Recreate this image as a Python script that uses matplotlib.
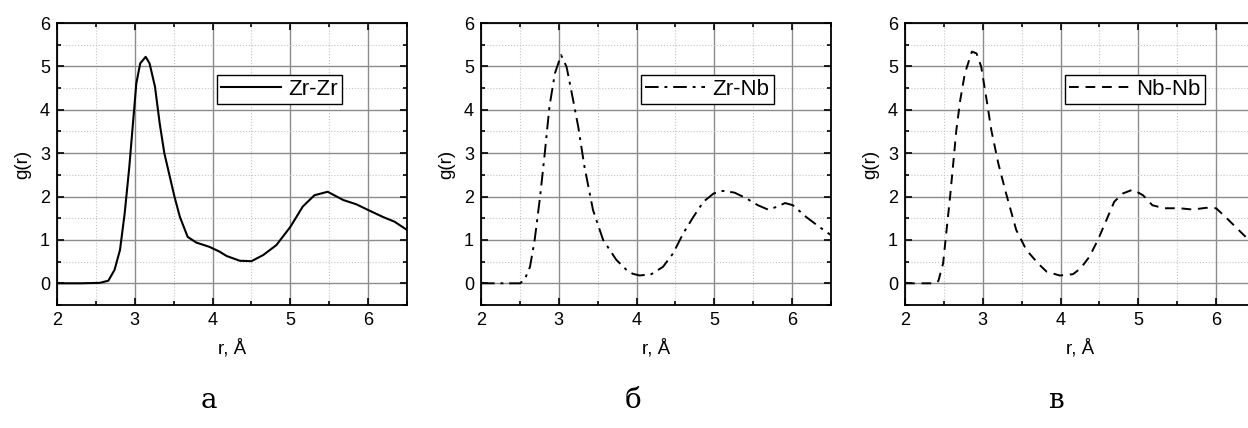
import numpy as np
import matplotlib.pyplot as plt
from matplotlib.ticker import MultipleLocator

# Zr-Zr
r1 = [2.0, 2.3, 2.55, 2.66, 2.74, 2.81, 2.87, 2.93, 2.98, 3.02, 3.07, 3.14, 3.19, 3.26, 3.32, 3.38,
      3.45, 3.51, 3.58, 3.68, 3.79, 3.96, 4.09, 4.18, 4.35, 4.5, 4.65, 4.82, 5.0, 5.16, 5.31, 5.48,
      5.68, 5.85, 6.0, 6.19, 6.34, 6.5]
g1 = [0.0, 0.0, 0.01, 0.06, 0.31, 0.77, 1.61, 2.69, 3.76, 4.61, 5.07, 5.22, 5.07, 4.53, 3.69, 3.0,
      2.46, 2.0, 1.53, 1.07, 0.94, 0.84, 0.73, 0.63, 0.52, 0.51, 0.65, 0.88, 1.3, 1.77, 2.03, 2.11,
      1.92, 1.82, 1.69, 1.53, 1.42, 1.23]

# Zr-Nb
r2 = [2.0, 2.3, 2.5, 2.56, 2.63, 2.69, 2.76, 2.82, 2.88, 2.95, 3.03, 3.10, 3.16, 3.25, 3.33, 3.44,
      3.57, 3.74, 3.87, 3.95, 4.04, 4.19, 4.34, 4.47, 4.6, 4.73, 4.86, 4.99, 5.11, 5.26, 5.41, 5.56,
      5.69, 5.8, 5.91, 6.01, 6.18, 6.35, 6.5]
g2 = [0.0, 0.0, 0.0, 0.08, 0.38, 1.0, 2.0, 3.0, 4.07, 4.84, 5.26, 4.99, 4.45, 3.61, 2.69, 1.69,
      1.0, 0.54, 0.31, 0.22, 0.18, 0.21, 0.38, 0.69, 1.15, 1.53, 1.88, 2.07, 2.13, 2.09, 1.96, 1.8,
      1.7, 1.76, 1.85, 1.8, 1.53, 1.3, 1.11]

# Nb-Nb
r3 = [2.0, 2.2, 2.4, 2.43, 2.49, 2.53, 2.58, 2.62, 2.66, 2.71, 2.77, 2.86, 2.92, 2.98, 3.05, 3.11,
      3.2, 3.30, 3.43, 3.56, 3.71, 3.82, 3.99, 4.16, 4.26, 4.37, 4.48, 4.59, 4.69, 4.8, 4.93, 5.06,
      5.18, 5.33, 5.53, 5.7, 5.87, 6.0, 6.12, 6.25, 6.38, 6.5]
g3 = [0.0, 0.0, 0.0, 0.06, 0.46, 1.15, 2.0, 2.76, 3.53, 4.22, 4.84, 5.34, 5.30, 4.99, 4.22, 3.53,
      2.76, 2.07, 1.23, 0.77, 0.46, 0.27, 0.18, 0.21, 0.35, 0.61, 1.0, 1.46, 1.88, 2.07, 2.16, 2.03,
      1.8, 1.73, 1.73, 1.7, 1.74, 1.73, 1.53, 1.3, 1.07, 0.9]

labels = ['Zr-Zr', 'Zr-Nb', 'Nb-Nb']
styles = ['-', '-.', '--']
captions = ['а', 'б', 'в']

plt.rcParams['font.family'] = ['Liberation Sans', 'DejaVu Sans']

fig = plt.figure(figsize=(12.48, 4.28), dpi=100)
W, H = 1248, 428
lefts = [57, 481, 905]
data = [(r1, g1), (r2, g2), (r3, g3)]

for i in range(3):
    ax = fig.add_axes([lefts[i] / W, (H - 305) / H, 350 / W, 282 / H])
    r, g = data[i]
    if styles[i] == '-.':
        ax.plot(r, g, color='black', lw=1.4, linestyle=(0, (7, 3, 1.5, 3)), label=labels[i])
    elif styles[i] == '--':
        ax.plot(r, g, color='black', lw=1.4, linestyle=(0, (5, 3.5)), label=labels[i])
    else:
        ax.plot(r, g, color='black', lw=1.5, label=labels[i])
    ax.set_xlim(2, 6.5)
    ax.set_ylim(-0.5, 6)
    ax.xaxis.set_major_locator(MultipleLocator(1))
    ax.xaxis.set_minor_locator(MultipleLocator(0.5))
    ax.yaxis.set_major_locator(MultipleLocator(1))
    ax.yaxis.set_minor_locator(MultipleLocator(0.5))
    ax.grid(True, which='major', color='#8c8c8c', lw=1.0)
    ax.grid(True, which='minor', color='#c4c4c4', lw=0.8, linestyle=':')
    ax.set_axisbelow(True)
    ax.tick_params(which='both', direction='in', top=True, right=True, labelsize=13, width=1.2)
    ax.tick_params(which='major', length=5, pad=5)
    ax.tick_params(which='minor', length=3)
    for s in ax.spines.values():
        s.set_linewidth(1.3)
    ax.set_xlabel('r, Å', fontsize=13.5, labelpad=7)
    ax.set_ylabel('g(r)', fontsize=13.5, labelpad=6)
    leg = ax.legend(loc='upper left', bbox_to_anchor=(0.457, 0.817), fontsize=16, handlelength=2.7,
                    handletextpad=0.3, borderpad=0.2, fancybox=False, framealpha=1,
                    edgecolor='black', borderaxespad=0)
    leg.get_frame().set_linewidth(1.0)
    fig.text((lefts[i] + 152) / W, 1 - 400 / H, captions[i], fontsize=20,
             family=['DejaVu Serif'], ha='center', va='center')

fig.savefig('out.png', dpi=100)
